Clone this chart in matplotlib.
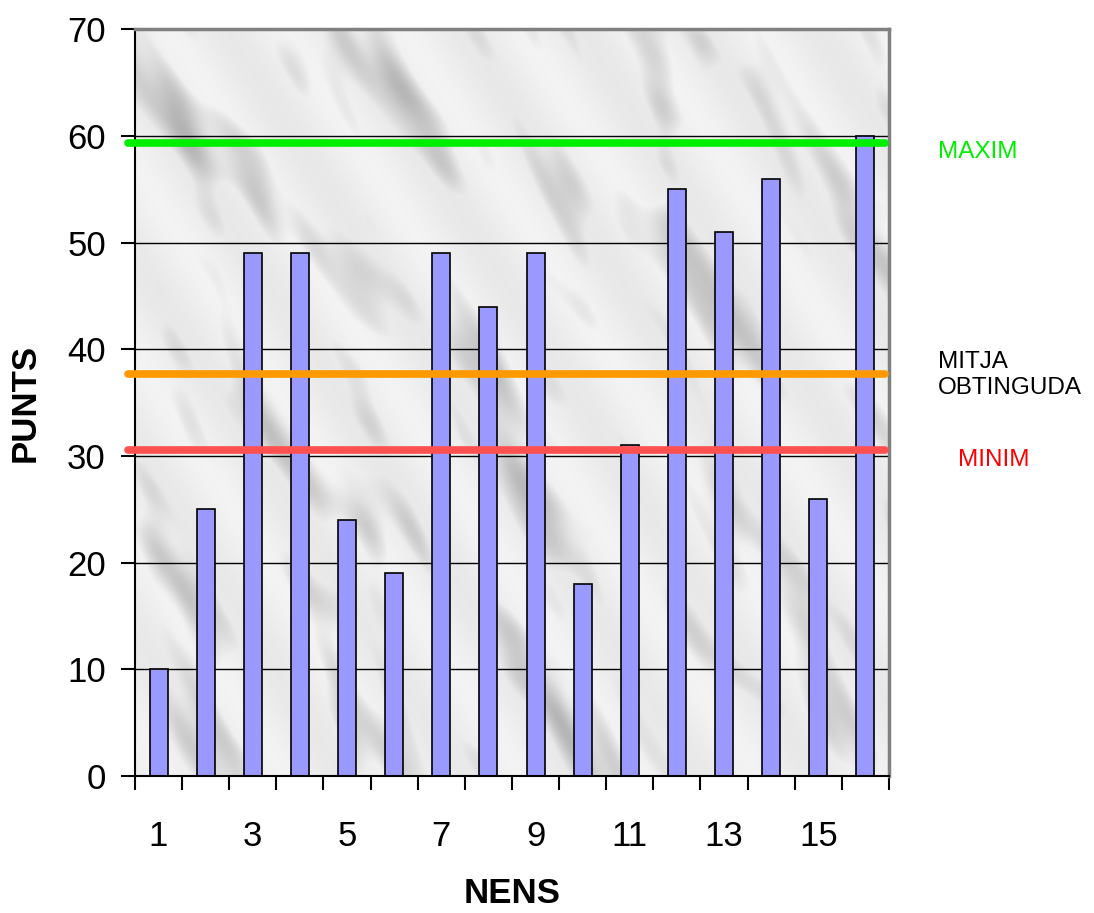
import numpy as np
import matplotlib.pyplot as plt

plt.rcParams['font.family'] = ['Liberation Sans', 'DejaVu Sans']

# Data
nens = list(range(1, 17))
punts = [10, 25, 49, 49, 24, 19, 49, 44, 49, 18, 31, 55, 51, 56, 26, 60]
maxim = 59.3
mitja = 37.7
minim = 30.6
ref_values = [maxim, mitja, minim]
ref_colors = ['#00ee00', '#ff9900', '#ff5050']

fig = plt.figure(figsize=(10.94, 9.13), dpi=100)
ax = fig.add_axes([0.1234, 0.150, 0.6892, 0.818])

# marble-ish background (decorative, deterministic sum of waves)
gx, gy = np.meshgrid(np.linspace(0, 1, 500), np.linspace(0, 1, 500))
waves = [(23, 0.6, 0.0), (37, 0.5, 1.3), (51, 0.7, 2.1), (71, 0.4, 0.7),
         (97, 0.55, 2.9), (13, 0.45, 0.4), (131, 0.65, 1.8), (61, 0.3, 2.4)]
n = np.zeros_like(gx)
for k, (f, ang, ph) in enumerate(waves):
    d = gx * np.cos(ang) + gy * np.sin(ang)
    n += np.sin(f * d + ph + 2.0 * np.sin(9 * gx * (k + 1) / 3 - 6 * gy + k)) / (1 + k * 0.3)
n = n / np.abs(n).max()
tex = 0.93 - 0.25 * (np.clip(n, 0.15, 1.0) - 0.15) + 0.02 * np.sin(40 * gx + 25 * gy)
ax.imshow(tex, cmap='gray', vmin=0, vmax=1, extent=[0.5, 16.5, 0, 70],
          aspect='auto', zorder=0, origin='lower', interpolation='bilinear')

ax.set_xlim(0.5, 16.5)
ax.set_ylim(0, 70)

ax.yaxis.grid(True, color='black', linewidth=1, zorder=1)
ax.set_axisbelow(True)

ax.bar(nens, punts, width=0.38, color='#9999ff', edgecolor='black',
       linewidth=1.2, zorder=2)

for v, c in zip(ref_values, ref_colors):
    ax.plot([0.36, 16.42], [v, v], color=c, linewidth=5.5,
            solid_capstyle='round', zorder=3, clip_on=False)

# ticks
ax.set_xticks(np.arange(0.5, 17, 1))
ax.set_xticklabels([])
ax.set_xticks(nens[::2], minor=True)
ax.set_xticklabels([str(n) for n in nens[::2]], minor=True, fontsize=25)
ax.tick_params(axis='x', which='major', direction='out', length=10, width=1.5)
ax.tick_params(axis='x', which='minor', length=0, pad=32)
ax.set_yticks(range(0, 71, 10))
ax.tick_params(axis='y', direction='out', length=10, width=1.5, labelsize=25, pad=11)

for s in ['left', 'bottom']:
    ax.spines[s].set_color('black')
    ax.spines[s].set_linewidth(1.5)
for s in ['top', 'right']:
    ax.spines[s].set_color('#808080')
    ax.spines[s].set_linewidth(2.5)

ax.set_xlabel('NENS', fontsize=25, fontweight='bold', labelpad=17)
ax.set_ylabel('PUNTS', fontsize=25, fontweight='bold', labelpad=18)

# side labels
fig.text(938 / 1094, 1 - 152 / 913, 'MAXIM', color='#00ee00', fontsize=17.5, va='center')
fig.text(938 / 1094, 1 - 375 / 913, 'MITJA\nOBTINGUDA', color='black', fontsize=17.5,
         va='center', linespacing=1.25)
fig.text(958 / 1094, 1 - 460 / 913, 'MINIM', color='#ff0000', fontsize=17.5, va='center')

fig.savefig('out.png', dpi=100)
